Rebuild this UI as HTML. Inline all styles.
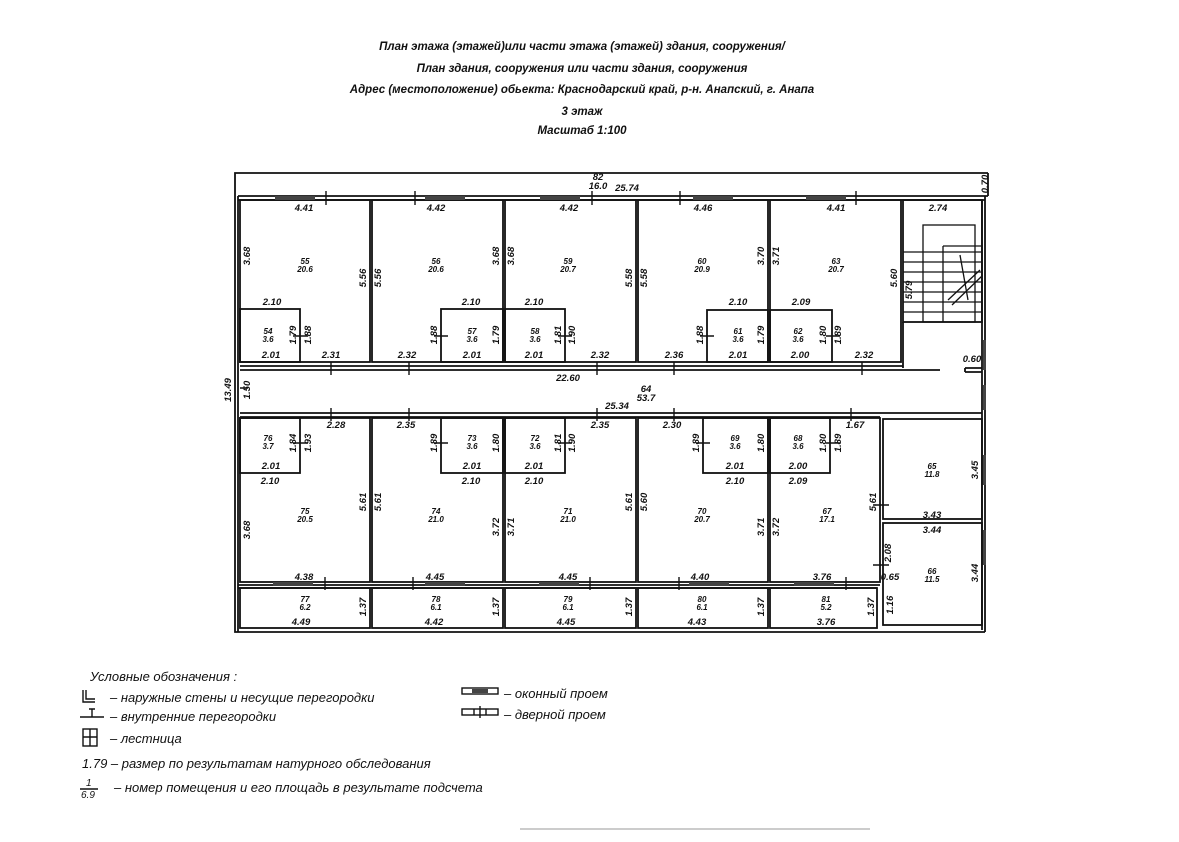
<!DOCTYPE html>
<html><head><meta charset="utf-8"><style>
html,body{margin:0;padding:0;background:#fff;}
svg{display:block}
text{font-family:"Liberation Sans","DejaVu Sans",sans-serif;font-style:italic;fill:#111;}
.d{font-size:9.5px;font-weight:bold}
.t{font-size:11.5px;font-weight:bold}
.l{font-size:13px}
</style></head><body>
<svg width="1179" height="842" viewBox="0 0 1179 842" xmlns="http://www.w3.org/2000/svg">
<rect width="1179" height="842" fill="#fff"/>
<g class="t" text-anchor="middle">
<text x="582" y="50" class="t">План этажа (этажей)или части этажа (этажей) здания, сооружения/</text>
<text x="582" y="72" class="t">План здания, сооружения или части здания, сооружения</text>
<text x="582" y="93" class="t">Адрес (местоположение) обьекта: Краснодарский край, р-н. Анапский, г. Анапа</text>
<text x="582" y="115" class="t">3 этаж</text>
<text x="582" y="134" class="t">Масштаб 1:100</text>
</g>
<g fill="none" stroke="#111" stroke-width="1.8">
<path d="M988 173 H235 V632 H985"/>
<path d="M988 173 V196"/>
<path d="M238 196 H988 M238 200 H985"/>
<path d="M238 196 V632"/>
<path d="M985 196 V632 M982 200 V630"/>
<rect x="240" y="200" width="130" height="162"/>
<rect x="372" y="200" width="131" height="162"/>
<rect x="505" y="200" width="131" height="162"/>
<rect x="638" y="200" width="130" height="162"/>
<rect x="770" y="200" width="131" height="162"/>
<rect x="903" y="200" width="79" height="122"/>
<path d="M903 322 V368"/>
<rect x="240" y="309" width="60" height="53"/>
<rect x="441" y="309" width="62" height="53"/>
<rect x="505" y="309" width="60" height="53"/>
<rect x="707" y="310" width="61" height="52"/>
<rect x="770" y="310" width="62" height="52"/>
<path d="M240 366 H903 M240 370 H940 M240 413 H982 M240 417 H880"/>
<path d="M965 368 H982 M965 372 H982 M965 368 V372"/>
<rect x="240" y="418" width="130" height="164"/>
<rect x="372" y="418" width="131" height="164"/>
<rect x="505" y="418" width="131" height="164"/>
<rect x="638" y="418" width="130" height="164"/>
<rect x="770" y="418" width="110" height="164"/>
<rect x="883" y="419" width="99" height="100"/>
<rect x="883" y="523" width="99" height="102"/>
<rect x="240" y="418" width="60" height="55"/>
<rect x="441" y="418" width="62" height="55"/>
<rect x="505" y="418" width="60" height="55"/>
<rect x="703" y="418" width="65" height="55"/>
<rect x="770" y="418" width="60" height="55"/>
<path d="M238 585 H880 M238 588 H877"/>
<rect x="240" y="588" width="130" height="40"/>
<rect x="372" y="588" width="131" height="40"/>
<rect x="505" y="588" width="131" height="40"/>
<rect x="638" y="588" width="130" height="40"/>
<rect x="770" y="588" width="107" height="40"/>
</g>
<g fill="none" stroke="#111" stroke-width="1.3">
<rect x="923" y="225" width="52" height="97"/>
<path d="M943 246 H982 V322"/>
<path d="M903 252 H982 M903 262 H982 M903 272 H982 M903 282 H982 M903 292 H982 M903 302 H982 M903 312 H982"/>
<path d="M943 246 V322"/>
<path d="M948 300 L980 270 M952 305 L982 276"/>
<path d="M960 255 L968 300"/>
</g>
<g fill="#444">
<rect x="275" y="196" width="40" height="4"/>
<rect x="425" y="196" width="40" height="4"/>
<rect x="540" y="196" width="40" height="4"/>
<rect x="693" y="196" width="40" height="4"/>
<rect x="806" y="196" width="40" height="4"/>
<rect x="983" y="340" width="3" height="30"/>
<rect x="983" y="385" width="3" height="25"/>
<rect x="983" y="455" width="3" height="30"/>
<rect x="983" y="530" width="3" height="35"/>
<rect x="273" y="582" width="40" height="4"/>
<rect x="425" y="582" width="40" height="4"/>
<rect x="539" y="582" width="40" height="4"/>
<rect x="689" y="582" width="40" height="4"/>
<rect x="794" y="582" width="40" height="4"/>
</g>
<g stroke="#111" stroke-width="1.4">
<path d="M326 191 V205 M415 191 V205 M592 191 V205 M680 191 V205 M856 191 V205"/>
<path d="M331 362 V375 M409 362 V375 M597 362 V375 M674 362 V375 M862 362 V375"/>
<path d="M331 408 V421 M409 408 V421 M597 408 V421 M674 408 V421 M851 408 V421"/>
<path d="M325 577 V590 M413 577 V590 M590 577 V590 M679 577 V590 M846 577 V590"/>
<path d="M293 336 H308 M434 336 H448 M558 336 H572 M700 336 H714 M826 336 H840"/>
<path d="M293 443 H308 M434 443 H448 M558 443 H572 M696 443 H710 M826 443 H840"/>
<path d="M873 505 H889 M873 565 H889 M240 388 H248"/>
</g>
<g class="d" text-anchor="middle">
<text x="598" y="180">82</text><text x="598" y="189">16.0</text>
<text x="627" y="191">25.74</text>
<text x="304" y="211">4.41</text><text x="436" y="211">4.42</text><text x="569" y="211">4.42</text><text x="703" y="211">4.46</text><text x="836" y="211">4.41</text><text x="938" y="211">2.74</text>
<text x="272" y="305">2.10</text><text x="471" y="305">2.10</text><text x="534" y="305">2.10</text><text x="738" y="305">2.10</text><text x="801" y="305">2.09</text>
<text x="271" y="358">2.01</text><text x="472" y="358">2.01</text><text x="534" y="358">2.01</text><text x="738" y="358">2.01</text><text x="800" y="358">2.00</text>
<text x="331" y="358">2.31</text><text x="407" y="358">2.32</text><text x="600" y="358">2.32</text><text x="674" y="358">2.36</text><text x="864" y="358">2.32</text><text x="972" y="362">0.60</text>
<text x="568" y="381">22.60</text>
<text x="646" y="392">64</text><text x="646" y="401">53.7</text>
<text x="617" y="409">25.34</text>
<text x="336" y="428">2.28</text><text x="406" y="428">2.35</text><text x="600" y="428">2.35</text><text x="672" y="428">2.30</text><text x="855" y="428">1.67</text>
<text x="271" y="469">2.01</text><text x="472" y="469">2.01</text><text x="534" y="469">2.01</text><text x="735" y="469">2.01</text><text x="798" y="469">2.00</text>
<text x="270" y="484">2.10</text><text x="471" y="484">2.10</text><text x="534" y="484">2.10</text><text x="735" y="484">2.10</text><text x="798" y="484">2.09</text>
<text x="932" y="518">3.43</text><text x="932" y="533">3.44</text>
<text x="304" y="580">4.38</text><text x="435" y="580">4.45</text><text x="568" y="580">4.45</text><text x="700" y="580">4.40</text><text x="822" y="580">3.76</text><text x="890" y="580">0.65</text>
<text x="301" y="625">4.49</text><text x="434" y="625">4.42</text><text x="566" y="625">4.45</text><text x="697" y="625">4.43</text><text x="826" y="625">3.76</text>
</g>
<g class="d" text-anchor="middle">
<text transform="translate(250,256) rotate(-90)">3.68</text>
<text transform="translate(366,278) rotate(-90)">5.56</text>
<text transform="translate(381,278) rotate(-90)">5.56</text>
<text transform="translate(499,256) rotate(-90)">3.68</text>
<text transform="translate(514,256) rotate(-90)">3.68</text>
<text transform="translate(632,278) rotate(-90)">5.58</text>
<text transform="translate(647,278) rotate(-90)">5.58</text>
<text transform="translate(764,256) rotate(-90)">3.70</text>
<text transform="translate(779,256) rotate(-90)">3.71</text>
<text transform="translate(897,278) rotate(-90)">5.60</text>
<text transform="translate(912,290) rotate(-90)">5.79</text>
<text transform="translate(988,184) rotate(-90)">0.70</text>
<text transform="translate(296,335) rotate(-90)">1.79</text>
<text transform="translate(311,335) rotate(-90)">1.88</text>
<text transform="translate(437,335) rotate(-90)">1.88</text>
<text transform="translate(499,335) rotate(-90)">1.79</text>
<text transform="translate(561,335) rotate(-90)">1.81</text>
<text transform="translate(575,335) rotate(-90)">1.90</text>
<text transform="translate(703,335) rotate(-90)">1.88</text>
<text transform="translate(764,335) rotate(-90)">1.79</text>
<text transform="translate(826,335) rotate(-90)">1.80</text>
<text transform="translate(841,335) rotate(-90)">1.89</text>
<text transform="translate(231,390) rotate(-90)">13.49</text>
<text transform="translate(250,390) rotate(-90)">1.50</text>
<text transform="translate(296,443) rotate(-90)">1.84</text>
<text transform="translate(311,443) rotate(-90)">1.93</text>
<text transform="translate(437,443) rotate(-90)">1.89</text>
<text transform="translate(499,443) rotate(-90)">1.80</text>
<text transform="translate(561,443) rotate(-90)">1.81</text>
<text transform="translate(575,443) rotate(-90)">1.90</text>
<text transform="translate(699,443) rotate(-90)">1.89</text>
<text transform="translate(764,443) rotate(-90)">1.80</text>
<text transform="translate(826,443) rotate(-90)">1.80</text>
<text transform="translate(841,443) rotate(-90)">1.89</text>
<text transform="translate(250,530) rotate(-90)">3.68</text>
<text transform="translate(366,502) rotate(-90)">5.61</text>
<text transform="translate(381,502) rotate(-90)">5.61</text>
<text transform="translate(499,527) rotate(-90)">3.72</text>
<text transform="translate(514,527) rotate(-90)">3.71</text>
<text transform="translate(632,502) rotate(-90)">5.61</text>
<text transform="translate(647,502) rotate(-90)">5.60</text>
<text transform="translate(764,527) rotate(-90)">3.71</text>
<text transform="translate(779,527) rotate(-90)">3.72</text>
<text transform="translate(876,502) rotate(-90)">5.61</text>
<text transform="translate(891,553) rotate(-90)">2.08</text>
<text transform="translate(978,470) rotate(-90)">3.45</text>
<text transform="translate(978,573) rotate(-90)">3.44</text>
<text transform="translate(366,607) rotate(-90)">1.37</text>
<text transform="translate(499,607) rotate(-90)">1.37</text>
<text transform="translate(632,607) rotate(-90)">1.37</text>
<text transform="translate(764,607) rotate(-90)">1.37</text>
<text transform="translate(874,607) rotate(-90)">1.37</text>
<text transform="translate(893,605) rotate(-90)">1.16</text>
</g>
<g class="d" text-anchor="middle" style="font-size:8px">
<text x="305" y="264">55</text><text x="305" y="272">20.6</text>
<text x="436" y="264">56</text><text x="436" y="272">20.6</text>
<text x="568" y="264">59</text><text x="568" y="272">20.7</text>
<text x="702" y="264">60</text><text x="702" y="272">20.9</text>
<text x="836" y="264">63</text><text x="836" y="272">20.7</text>
<text x="268" y="334">54</text><text x="268" y="342">3.6</text>
<text x="472" y="334">57</text><text x="472" y="342">3.6</text>
<text x="535" y="334">58</text><text x="535" y="342">3.6</text>
<text x="738" y="334">61</text><text x="738" y="342">3.6</text>
<text x="798" y="334">62</text><text x="798" y="342">3.6</text>
<text x="268" y="441">76</text><text x="268" y="449">3.7</text>
<text x="472" y="441">73</text><text x="472" y="449">3.6</text>
<text x="535" y="441">72</text><text x="535" y="449">3.6</text>
<text x="735" y="441">69</text><text x="735" y="449">3.6</text>
<text x="798" y="441">68</text><text x="798" y="449">3.6</text>
<text x="305" y="514">75</text><text x="305" y="522">20.5</text>
<text x="436" y="514">74</text><text x="436" y="522">21.0</text>
<text x="568" y="514">71</text><text x="568" y="522">21.0</text>
<text x="702" y="514">70</text><text x="702" y="522">20.7</text>
<text x="827" y="514">67</text><text x="827" y="522">17.1</text>
<text x="932" y="469">65</text><text x="932" y="477">11.8</text>
<text x="932" y="574">66</text><text x="932" y="582">11.5</text>
<text x="305" y="602">77</text><text x="305" y="610">6.2</text>
<text x="436" y="602">78</text><text x="436" y="610">6.1</text>
<text x="568" y="602">79</text><text x="568" y="610">6.1</text>
<text x="702" y="602">80</text><text x="702" y="610">6.1</text>
<text x="826" y="602">81</text><text x="826" y="610">5.2</text>
</g>
<text x="90" y="681" class="l">Условные обозначения  :</text>
<g stroke="#111" stroke-width="1.4" fill="none">
<path d="M83 690 V702 H95 M86 690 V699 H95"/>
<path d="M80 717 H104 M92 709 V717 M89 709 H95"/>
<rect x="83" y="729" width="14" height="17"/><path d="M83 737 H97 M90 729 V746"/>
<path d="M80 789 H98"/>
<rect x="462" y="688" width="36" height="6"/>
<rect x="462" y="709" width="36" height="6"/><path d="M474 709 V715 M486 709 V715 M480 706 V718"/>
</g>
<rect x="472" y="689" width="16" height="4" fill="#444"/>
<g class="l">
<text x="110" y="702">– наружные стены и несущие перегородки</text>
<text x="110" y="721">– внутренние перегородки</text>
<text x="110" y="743">– лестница</text>
<text x="82" y="768">1.79 – размер по результатам натурного обследования</text>
<text x="86" y="786" style="font-size:10px">1</text>
<text x="81" y="798" style="font-size:10px">6.9</text>
<text x="114" y="792">– номер помещения и его площадь в результате подсчета</text>
<text x="504" y="698">– оконный проем</text>
<text x="504" y="719">– дверной проем</text>
</g>
<path d="M520 829 H870" stroke="#ccc" stroke-width="2"/>
</svg>
</body></html>
